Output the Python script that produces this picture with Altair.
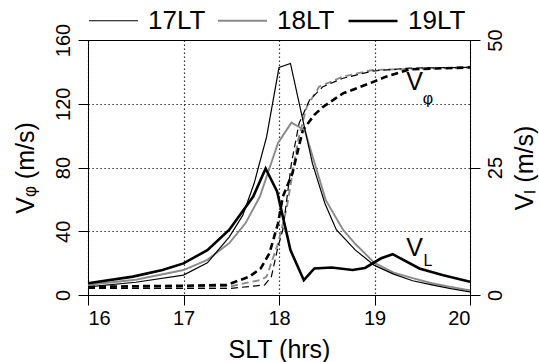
import altair as alt
import pandas as pd

FONT = "Liberation Sans"
series_names = ["17LT", "18LT", "19LT"]
series_colors = ["black", "#8a8a8a", "black"]
series_widths = [1.2, 2.6, 3.6]

# ---- V_L (solid, right axis, m/s) ----
t17_vl = [16.0, 16.5, 17.0, 17.25, 17.48, 17.62, 17.74, 17.87, 18.0, 18.12, 18.25, 18.35,
          18.48, 18.6, 18.8, 19.0, 19.2, 19.4, 19.6, 19.8, 20.0]
v17_vl = [1.6, 2.5, 3.9, 6.3, 11.4, 15.6, 21.9, 31.0, 44.6, 45.4, 34.3, 25.8,
          18.0, 12.8, 8.8, 5.8, 4.1, 2.8, 2.0, 1.25, 0.6]

t18_vl = [16.0, 16.5, 17.0, 17.25, 17.48, 17.65, 17.8, 17.99, 18.13, 18.27, 18.39, 18.49,
          18.67, 18.8, 19.0, 19.2, 19.4, 19.6, 19.8, 20.0]
v18_vl = [2.0, 3.0, 4.9, 6.9, 10.2, 14.1, 19.3, 29.8, 33.8, 32.3, 24.8, 18.6,
          12.8, 10.0, 6.3, 4.4, 3.3, 2.3, 1.6, 0.9]

t19_vl = [16.0, 16.47, 16.78, 17.0, 17.25, 17.48, 17.73, 17.86, 17.98, 18.12, 18.26, 18.37,
          18.55, 18.77, 18.9, 19.07, 19.19, 19.47, 19.71, 20.0]
v19_vl = [2.3, 3.6, 4.9, 6.2, 8.8, 12.8, 19.3, 24.8, 20.3, 8.8, 2.9, 5.2,
          5.4, 4.9, 5.3, 7.2, 8.0, 5.2, 3.9, 2.6]

# ---- V_phi (dashed, left axis, m/s) ----
t17_vp = [16.0, 17.0, 17.5, 17.85, 17.92, 17.99, 18.04, 18.13, 18.21, 18.32, 18.46, 18.67,
          18.98, 19.37, 20.0]
v17_vp = [4.2, 4.2, 4.2, 6.3, 11.5, 30.3, 40.8, 82.6, 107.7, 122.3, 130.7, 136.0,
          140.5, 142.4, 142.8]

t18_vp = [16.0, 17.0, 17.5, 17.69, 17.81, 17.87, 17.99, 18.08, 18.2, 18.29, 18.42, 18.67,
          18.98, 20.0]
v18_vp = [5.2, 5.2, 5.5, 8.0, 9.4, 11.5, 32.4, 54.4, 97.2, 118.0, 130.7, 137.0,
          141.2, 142.8]

t19_vp = [16.0, 16.5, 17.0, 17.45, 17.69, 17.81, 17.9, 17.99, 18.04, 18.14, 18.25, 18.37,
          18.46, 18.67, 18.95, 19.12, 19.37, 20.0]
v19_vp = [5.0, 5.5, 5.8, 6.3, 11.5, 16.8, 26.2, 45.0, 61.7, 76.3, 103.5, 113.0,
          118.0, 126.5, 132.8, 137.0, 141.6, 142.8]

# ---- annotations (left-axis units) ----
note_text = ["V", "φ", "V", "L"]
note_t = [19.42, 19.56, 19.42, 19.56]
note_v = [133.5, 123.0, 29.8, 21.3]
note_size = [25, 16, 25, 16]


def long_df(items):
    rows = []
    for name, ts, vs in items:
        for t, v in zip(ts, vs):
            rows.append({"slt": t, "v": v, "series": name})
    return pd.DataFrame(rows)


vl_df = long_df([("18LT", t18_vl, v18_vl), ("17LT", t17_vl, v17_vl), ("19LT", t19_vl, v19_vl)])
vp_df = long_df([("18LT", t18_vp, v18_vp), ("17LT", t17_vp, v17_vp), ("19LT", t19_vp, v19_vp)])
note_df = pd.DataFrame({"slt": note_t, "v": note_v, "txt": note_text, "fs": note_size})

legend_spec = alt.Legend(
    title=None, orient="none", legendX=0, legendY=-45, direction="horizontal",
    symbolType="stroke", symbolSize=2401, labelFontSize=26, labelFont=FONT,
    labelColor="black", labelOffset=9, columnPadding=8, symbolStrokeColor="black",
)
color_enc = alt.Color("series:N", scale=alt.Scale(domain=series_names, range=series_colors),
                      legend=legend_spec)
width_enc = alt.StrokeWidth("series:N", scale=alt.Scale(domain=series_names, range=series_widths),
                            legend=legend_spec)

x_enc = alt.X(
    "slt:Q", scale=alt.Scale(domain=[16, 20], nice=False),
    axis=alt.Axis(values=[16, 17, 18, 19, 20], format="d", title="SLT  (hrs)", grid=True,
                  labelFontSize=20, titleFontSize=25, labelPadding=3,
                  titleY=62, titleBaseline="alphabetic"),
)

left_scale = alt.Scale(domain=[0, 160], nice=False)
right_scale = alt.Scale(domain=[0, 50], nice=False)

left_axis = alt.Axis(values=[0, 40, 80, 120, 160], title="Vᵩ  (m/s)", grid=True, orient="left",
                     labelAngle=270, labelAlign="center", labelBaseline="bottom",
                     labelFontSize=20, labelPadding=5, titleFontSize=25,
                     titleAngle=270, titleAlign="center", titleBaseline="alphabetic",
                     titleX=-55, titleY=127.5)

dashed = alt.Chart(vp_df).mark_line(strokeDash=[7, 4], strokeCap="butt").encode(
    x=x_enc,
    y=alt.Y("v:Q", scale=left_scale, axis=left_axis),
    color=color_enc,
    strokeWidth=width_enc,
    detail="series:N",
)

notes = alt.Chart(note_df).mark_text(font=FONT, color="black", baseline="middle", align="center").encode(
    x=x_enc,
    y=alt.Y("v:Q", scale=left_scale, axis=left_axis),
    text="txt:N",
    size=alt.Size("fs:Q", scale=None, legend=None),
)

solid = alt.Chart(vl_df).mark_line(strokeCap="butt", strokeJoin="miter").encode(
    x=x_enc,
    y=alt.Y("v:Q", scale=right_scale,
            axis=alt.Axis(values=[0, 25, 50], title="Vₗ  (m/s)", orient="right", grid=False,
                          labelAngle=270, labelAlign="center", labelBaseline="top",
                          labelFontSize=20, labelPadding=5, titleFontSize=25,
                          titleAngle=270, titleAlign="center", titleBaseline="alphabetic",
                          titleX=62, titleY=127.5)),
    color=color_enc,
    strokeWidth=width_enc,
    detail="series:N",
)

left = alt.layer(dashed, notes)

chart = alt.layer(left, solid).resolve_scale(y="independent").properties(
    width=382, height=255,
    autosize=alt.AutoSizeParams(type="none"),
    padding={"left": 88, "top": 40, "right": 69, "bottom": 67},
    background="white",
).configure_view(
    stroke="black", strokeWidth=1,
).configure_axis(
    domainColor="black", tickColor="black", labelColor="black", titleColor="black",
    labelFont=FONT, titleFont=FONT, titleFontWeight="normal", tickSize=10, tickWidth=1,
    domainWidth=1, gridColor="black", gridDash=[1.2, 2.8], gridWidth=1.2, gridOpacity=1,
)

chart.save("out.html", embed_options={"renderer": "svg", "actions": False})
